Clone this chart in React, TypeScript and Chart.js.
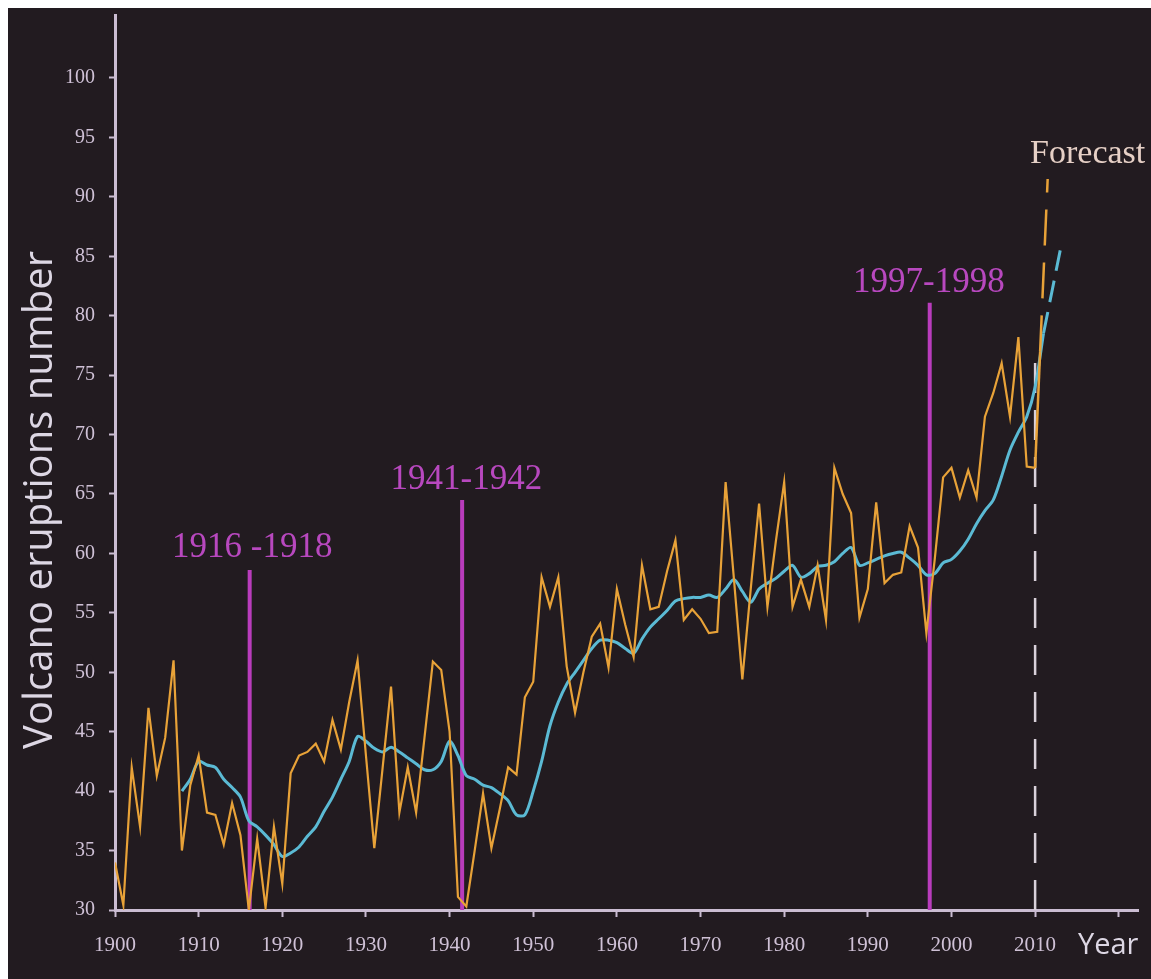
import React, { useEffect, useRef } from 'react';
import { Chart, registerables } from 'chart.js';

Chart.register(...registerables);

// ---------- DATA ----------
const orangeYears = [
  1900, 1901, 1902, 1903, 1904, 1905, 1906, 1907, 1908, 1909,
  1910, 1911, 1912, 1913, 1914, 1915, 1916, 1917, 1918, 1919,
  1920, 1921, 1922, 1923, 1924, 1925, 1926, 1927, 1928, 1929,
  1930, 1931, 1932, 1933, 1934, 1935, 1936, 1937, 1938, 1939,
  1940, 1941, 1942, 1943, 1944, 1945, 1946, 1947, 1948, 1949,
  1950, 1951, 1952, 1953, 1954, 1955, 1956, 1957, 1958, 1959,
  1960, 1961, 1962, 1963, 1964, 1965, 1966, 1967, 1968, 1969,
  1970, 1971, 1972, 1973, 1974, 1975, 1976, 1977, 1978, 1979,
  1980, 1981, 1982, 1983, 1984, 1985, 1986, 1987, 1988, 1989,
  1990, 1991, 1992, 1993, 1994, 1995, 1996, 1997, 1998, 1999,
  2000, 2001, 2002, 2003, 2004, 2005, 2006, 2007, 2008, 2009,
  2010,
];
const eruptions = [
  34, 30.4, 42, 37, 47, 41.3, 44.5, 51, 35, 40.5,
  43, 38.2, 38, 35.5, 39, 36.3, 30, 36, 30.2, 37,
  32.2, 41.5, 43, 43.3, 44, 42.5, 46, 43.5, 47.5, 51,
  43, 35.2, 42, 48.8, 38.2, 42, 38.2, 44.5, 50.9, 50.2,
  45, 31.1, 30.3, 35, 39.8, 35.2, 38.5, 42, 41.4, 47.9,
  49.2, 58, 55.5, 58, 50.5, 46.6, 50, 53, 54.1, 50.4,
  57, 54, 51.3, 59, 55.3, 55.5, 58.5, 61.1, 54.4, 55.3,
  54.5, 53.3, 53.4, 66, 57.8, 49.4, 57, 64.2, 55.5, 61,
  66, 55.5, 57.8, 55.5, 59, 54.4, 67.2, 65, 63.4, 54.6,
  57, 64.3, 57.5, 58.2, 58.4, 62.3, 60.5, 53.3, 59.5, 66.4,
  67.2, 64.7, 67, 64.7, 71.5, 73.5, 76, 71.5, 78.2, 67.3,
  67.2,
];

const trendYears = [
  1908, 1909,
  1910, 1911, 1912, 1913, 1914, 1915, 1916, 1917, 1918, 1919,
  1920, 1921, 1922, 1923, 1924, 1925, 1926, 1927, 1928, 1929,
  1930, 1931, 1932, 1933, 1934, 1935, 1936, 1937, 1938, 1939,
  1940, 1941, 1942, 1943, 1944, 1945, 1946, 1947, 1948, 1949,
  1950, 1951, 1952, 1953, 1954, 1955, 1956, 1957, 1958, 1959,
  1960, 1961, 1962, 1963, 1964, 1965, 1966, 1967, 1968, 1969,
  1970, 1971, 1972, 1973, 1974, 1975, 1976, 1977, 1978, 1979,
  1980, 1981, 1982, 1983, 1984, 1985, 1986, 1987, 1988, 1989,
  1990, 1991, 1992, 1993, 1994, 1995, 1996, 1997, 1998, 1999,
  2000, 2001, 2002, 2003, 2004, 2005, 2006, 2007, 2008, 2009,
  2010, 2011,
];
const trend = [
  40, 41,
  42.5, 42.2, 42, 41, 40.3, 39.5, 37.5, 37, 36.3, 35.5,
  34.5, 34.8, 35.3, 36.2, 37, 38.3, 39.5, 41, 42.5, 44.6,
  44.2, 43.6, 43.3, 43.7, 43.3, 42.8, 42.3, 41.8, 41.8, 42.5,
  44.2, 43, 41.3, 41, 40.5, 40.3, 39.8, 39.2, 38, 38,
  40, 42.5, 45.5, 47.5, 49, 50, 51, 52, 52.7, 52.7,
  52.5, 52, 51.6, 52.8, 53.8, 54.5, 55.2, 56, 56.2, 56.3,
  56.3, 56.5, 56.3, 57, 57.8, 56.8, 55.9, 57, 57.5, 57.9,
  58.5, 59, 58, 58.3, 58.9, 59, 59.3, 60, 60.5, 59,
  59.2, 59.5, 59.8, 60, 60.1, 59.6, 59, 58.2, 58.3, 59.2,
  59.5, 60.2, 61.2, 62.5, 63.6, 64.5, 66.5, 68.7, 70.2, 71.5,
  74, 78.5,
];

// forecast extensions
const eruptionForecastYears = [2010, 2010.6, 2011.5];
const eruptionForecast = [67.2, 77, 91.5];
const trendForecastYears = [2011, 2012, 2013];
const trendForecast = [78.5, 82, 85.5];

// event markers
const eventYears = [1916.1, 1941.5, 1997.4];
const eventTops = [58.6, 64.5, 81.1];
const eventLabels = ['1916 -1918', '1941-1942', '1997-1998'];
const eventLabelYears = [1916.4, 1942.0, 1997.3];
const eventLabelValues = [60.45, 66.2, 82.75];

const forecastLineYear = 2010;
const forecastLineTop = 76.9;
const forecastText = 'Forecast';
const forecastTextYear = 2009.4;
const forecastTextValue = 93.6;

const yTicks = [30, 35, 40, 45, 50, 55, 60, 65, 70, 75, 80, 85, 90, 95, 100];
const xTickLabels = ['1900', '1910', '1920', '1930', '1940', '1950', '1960', '1970', '1980', '1990', '2000', '2010'];

// ---------- STYLE ----------
const BG = '#221b20';
const ORANGE = '#e8a238';
const CYAN = '#5bbad4';
const MAGENTA = '#b93cbc';
const MAGENTA_TEXT = '#b848bf';
const AXIS = '#cbbdd2';
const TICK_TEXT = '#cfc1d6';
const TITLE_TEXT = '#ddd7e4';

const annotate = {
  id: 'annotate',
  beforeDatasetsDraw(chart: any) {
    const { ctx } = chart;
    const x = chart.scales.x;
    const y = chart.scales.y;
    ctx.save();
    ctx.strokeStyle = MAGENTA;
    ctx.lineWidth = 4;
    eventYears.forEach((yr, i) => {
      const px = x.getPixelForValue(yr);
      ctx.beginPath();
      ctx.moveTo(px, y.getPixelForValue(30));
      ctx.lineTo(px, y.getPixelForValue(eventTops[i]));
      ctx.stroke();
    });
    const fx = x.getPixelForValue(forecastLineYear);
    ctx.strokeStyle = '#d9d1da';
    ctx.lineWidth = 2.5;
    ctx.setLineDash([30, 17]);
    ctx.beginPath();
    ctx.moveTo(fx, y.getPixelForValue(30));
    ctx.lineTo(fx, y.getPixelForValue(forecastLineTop));
    ctx.stroke();
    ctx.setLineDash([]);
    ctx.restore();
  },
  afterDatasetsDraw(chart: any) {
    const { ctx, chartArea } = chart;
    const x = chart.scales.x;
    const y = chart.scales.y;
    ctx.save();
    ctx.fillStyle = MAGENTA_TEXT;
    ctx.font = '35px "Liberation Serif", "DejaVu Serif", serif';
    ctx.textAlign = 'center';
    ctx.textBaseline = 'middle';
    eventLabels.forEach((t, i) => {
      ctx.fillText(t, x.getPixelForValue(eventLabelYears[i]), y.getPixelForValue(eventLabelValues[i]));
    });
    ctx.fillStyle = '#e6d0c6';
    ctx.font = '34px "Liberation Serif", "DejaVu Serif", serif';
    ctx.textAlign = 'left';
    ctx.fillText(forecastText, x.getPixelForValue(forecastTextYear), y.getPixelForValue(forecastTextValue));
    ctx.fillStyle = TITLE_TEXT;
    ctx.font = '29px "Open Sans", "Liberation Sans", sans-serif';
    ctx.textAlign = 'left';
    ctx.fillText('Year', chartArea.right - 60, chartArea.bottom + 36);
    ctx.translate(chartArea.left - 74, y.getPixelForValue(64.5));
    ctx.rotate(-Math.PI / 2);
    ctx.font = '40px "Open Sans", "Liberation Sans", sans-serif';
    ctx.textAlign = 'center';
    ctx.fillText('Volcano eruptions number', 0, 0);
    ctx.restore();
  },
};

export default function App() {
  const canvasRef = useRef<HTMLCanvasElement | null>(null);

  useEffect(() => {
    const canvas = canvasRef.current;
    if (!canvas) return;
    const chart = new Chart(canvas, {
      type: 'line',
      data: {
        datasets: [
          {
            label: 'Eruptions',
            data: orangeYears.map((yr, i) => ({ x: yr, y: eruptions[i] })),
            borderColor: ORANGE,
            borderWidth: 2.2,
            pointRadius: 0,
            tension: 0,
          },
          {
            label: 'Eruptions forecast',
            data: eruptionForecastYears.map((yr, i) => ({ x: yr, y: eruptionForecast[i] })),
            borderColor: ORANGE,
            borderWidth: 2.5,
            pointRadius: 0,
            tension: 0,
            segment: {
              borderDash: (c: any) => (c.p0DataIndex >= 1 ? [36, 17] : undefined),
            },
          },
          {
            label: 'Trend',
            data: trendYears.map((yr, i) => ({ x: yr, y: trend[i] })),
            borderColor: CYAN,
            borderWidth: 3,
            pointRadius: 0,
            tension: 0.3,
          },
          {
            label: 'Trend forecast',
            data: trendForecastYears.map((yr, i) => ({ x: yr, y: trendForecast[i] })),
            borderColor: CYAN,
            borderWidth: 3,
            borderDash: [22, 10],
            pointRadius: 0,
            tension: 0,
          },
        ],
      },
      options: {
        animation: false,
        responsive: false,
        devicePixelRatio: 1,
        layout: { padding: { left: 0, top: 7, right: 13, bottom: 0 } },
        plugins: { legend: { display: false }, tooltip: { enabled: false } },
        scales: {
          x: {
            type: 'linear',
            min: 1900,
            max: 2022.3,
            afterFit: (s: any) => { s.height = 69; s.paddingLeft = 0; s.paddingRight = 0; },
            afterBuildTicks: (s: any) => {
              s.ticks = [];
              for (let v = 1900; v <= 2020; v += 10) s.ticks.push({ value: v });
            },
            ticks: {
              color: TICK_TEXT,
              font: { family: '"Liberation Serif", "DejaVu Serif", serif', size: 21 },
              padding: 16,
              maxRotation: 0,
              autoSkip: false,
              callback: (v: any) => {
                const s = String(v);
                return xTickLabels.includes(s) ? s : '';
              },
            },
            grid: { drawOnChartArea: false, drawTicks: true, tickLength: 7, tickColor: AXIS, tickWidth: 2 },
            border: { display: true, color: AXIS, width: 3 },
          },
          y: {
            type: 'linear',
            min: 30,
            max: 105.3,
            afterFit: (s: any) => { s.width = 107; s.paddingTop = 0; s.paddingBottom = 0; },
            afterBuildTicks: (s: any) => {
              s.ticks = yTicks.map((v) => ({ value: v }));
            },
            ticks: {
              color: TICK_TEXT,
              font: { family: '"Liberation Serif", "DejaVu Serif", serif', size: 20 },
              padding: 14,
              autoSkip: false,
              callback: (v: any) => String(v),
            },
            grid: { drawOnChartArea: false, drawTicks: true, tickLength: 6, tickColor: AXIS, tickWidth: 2 },
            border: { display: true, color: AXIS, width: 3 },
          },
        },
      },
      plugins: [annotate],
    } as any);
    return () => chart.destroy();
  }, []);

  return (
    <div
      style={{
        position: 'fixed',
        left: 8,
        top: 8,
        width: 1143,
        height: 971,
        background: BG,
        overflow: 'hidden',
      }}
    >
      <canvas ref={canvasRef} width={1143} height={971} style={{ display: 'block' }} />
    </div>
  );
}
